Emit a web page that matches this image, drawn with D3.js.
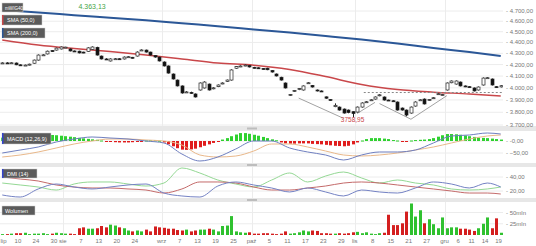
<!DOCTYPE html>
<html>
<head>
<meta charset="utf-8">
<script src="https://cdn.jsdelivr.net/npm/d3@7"></script>
<style>
body{margin:0;background:#fff;font-family:"Liberation Sans",Arial,sans-serif}
</style>
</head>
<body>
<div id="chart"></div>
<script>
// --- price data (one entry per session) ---
const opens = [
4212,4215,4213,4214,4198,4192,4196,4212,4240,4285,
4295,4325,4330,4340,4356,4340,4322,4320,4312,4318,
4335,4355,4276,4250,4232,4250,4252,4250,4267,4265,
4276,4328,4330,4312,4280,4267,4223,4188,4118,4066,
4016,3962,3962,3949,3982,3999,4032,3992,4010,4035,
4055,4066,4168,4182,4190,4192,4176,4172,4166,4168,
4148,4118,4090,4041,3936,3970,3985,3982,4040,4020,
3982,3974,3925,3903,3845,3842,3826,3818,3805,3802,
3842,3883,3897,3907,3934,3924,3899,3893,3883,3834,
3818,3794,3850,3897,3907,3897,3912,3945,3940,3982,
4043,4032,4049,4016,4010,3999,3982,4024,4083,4075,
4010,4008];
const closes = [
4215,4213,4216,4198,4192,4196,4204,4240,4285,4287,
4320,4318,4348,4358,4357,4322,4318,4304,4306,4350,
4358,4285,4250,4248,4250,4252,4248,4267,4270,4258,
4312,4331,4312,4285,4267,4232,4188,4126,4075,4016,
3957,3966,3955,3924,4041,4049,3982,4000,4024,4041,
4066,4153,4182,4188,4196,4179,4170,4166,4161,4155,
4135,4101,4066,3999,3944,3978,3994,4016,4043,4007,
3974,3970,3914,3897,3856,3818,3794,3798,3790,3842,
3875,3885,3901,3924,3942,3899,3895,3891,3818,3818,
3778,3842,3883,3901,3867,3903,3918,3951,3944,4041,
4058,4058,4016,4010,4005,3974,4007,4083,4086,4024,
4003,4018];
const highs = [
4220,4221,4220,4218,4202,4200,4208,4244,4290,4292,
4325,4328,4352,4362,4360,4345,4326,4324,4315,4355,
4363.13,4360,4280,4256,4255,4258,4256,4272,4275,4268,
4318,4336,4334,4315,4284,4270,4228,4192,4122,4070,
4020,3972,3968,3953,4045,4055,4036,4005,4028,4046,
4070,4158,4186,4193,4200,4196,4180,4176,4170,4172,
4152,4122,4094,4045,3948,3982,3998,4020,4048,4024,
3986,3978,3928,3906,3872,3846,3830,3822,3808,3846,
3880,3890,3905,3928,3947,3928,3902,3897,3887,3838,
3822,3846,3888,3905,3912,3907,3922,3955,3949,4045,
4062,4062,4053,4020,4014,4003,4011,4088,4091,4079,
4014,4022];
const lows = [
4208,4209,4209,4195,4188,4189,4193,4209,4236,4280,
4291,4314,4326,4336,4353,4318,4314,4300,4302,4315,
4331,4281,4246,4244,4228,4246,4244,4246,4263,4254,
4272,4324,4308,4281,4262,4228,4184,4122,4071,4012,
3952,3958,3950,3920,3978,3995,3978,3988,4006,4031,
4051,4062,4164,4178,4186,4175,4166,4162,4157,4151,
4131,4097,4062,3995,3932,3966,3981,3978,4036,4003,
3970,3966,3910,3893,3841,3814,3790,3792,3758.95,3798,
3838,3879,3893,3903,3930,3895,3891,3887,3814,3814,
3768,3790,3846,3893,3863,3893,3908,3941,3936,3978,
4039,4028,4012,4006,4001,3970,3978,4020,4079,4020,
3999,4004];

// volume in mln
const volumes = [
2,2,3,4,4,5,2,3,3,4,
2,3,5,4,3,3,2,15,17,14,
14,15,20,17,23,21,17,15,10,8,
10,8,12,8,19,17,16,14,14,11,
10,12,8,10,12,12,14,12,8,20,
21,42,8,6,5,6,3,3,4,4,
3,2,3,8,3,4,6,10,8,10,
9,4,4,3,3,4,3,4,6,7,
4,6,3,2,4,5,45,22,22,26,
52,70,41,55,26,35,24,15,39,15,
17,17,14,14,12,9,15,25,39,15,
37,5];

// MACD histogram, one per session
const macdHist = [
14,15,17,18,20,20,22,23,24,24,
25,25,24,22,20,18,16,13,11,9,
7,5,2,-2,-4,-5,-6,-6,-6,-5,
-4,-2,2,3,3,1,-6,-14,-22,-30,
-36,-37,-35,-32,-26,-20,-14,-8,-2,6,
12,20,27,33,33,30,26,22,17,12,
7,3,-6,-10,-11,-11,-10,-10,-10,-12,
-13,-14,-16,-18,-20,-21,-22,-20,-14,-6,
2,8,12,12,12,10,8,4,2,-1,
-2,2,4,5,6,8,12,18,24,29,
29,28,26,23,20,17,14,13,12,10,
8,6];

// sampled indicator lines (session index -> value)
const lineIdx = [0,4,8,12,16,20,24,28,32,36,40,44,48,52,56,60,64,68,72,76,80,84,88,92,96,100,104,108,111];
const macdLine = [-50,-37.5,-25,-4.2,8.3,16.7,12.5,8.3,0,-8.3,-54.2,-83.3,-66.7,-33.3,0,0,-29.2,-45.8,-58.3,-79.2,-58.3,-45.8,-45.8,-37.5,-8.3,20.8,25,33.3,29.2];
const signalLine = [-66.7,-58.3,-45.8,-29.2,-12.5,0,8.3,8.3,4.2,0,-16.7,-58.3,-66.7,-62.5,-41.7,-12.5,-12.5,-25,-41.7,-58.3,-62.5,-58.3,-50,-37.5,-25,-8.3,8.3,20.8,25];
const dmiGreen = [31.4,28.6,25.7,21.4,30,32.9,32.9,30,27.1,31.4,52.9,45.7,35.7,30,25.7,35.7,45.7,32.9,41.4,47.1,38.6,31.4,35.7,31.4,28.6,22.9,21.4,22.9,25.7];
const dmiRed = [40,37.1,34.3,28.6,25.7,24.3,24.3,22.9,21.4,17.1,22.9,32.9,32.9,31.4,25.7,21.4,21.4,24.3,27.1,31.4,32.9,31.4,28.6,25.7,22.9,20,17.1,17.1,15.7];
const dmiBlue = [14.3,11.4,22.9,30,25.7,22.9,25.7,28.6,30,17.1,12.9,11.4,27.1,32.9,28.6,24.3,18.6,24.3,18.6,12.9,21.4,18.6,17.1,24.3,32.9,30,24.3,31.4,25.7];

const smaIdx = [0,8,16,24,32,40,48,56,64,72,80,88,96,104,111];
const sma50 = [4422,4376,4344,4317,4285,4250,4214,4195,4157,4096,4028,3986,3964,3949,3932];
const sma200 = [4710,4685,4659,4634,4609,4580,4553,4522,4492,4460,4427,4390,4349,4312,4276];

// pattern lines drawn on the price panel
const patternLines = [
  [[66,3915],[76,3752]],
  [[79,3790],[83,3880]],
  [[84,3870],[91,3745]],
  [[91,3745],[99,3935]]
];
const neckIdx = [81,112];
const neckValue = 3961;

// axis labels
const tickIdx = [0,4,8,12,14,18,22,26,30,36,40,44,48,52,56,60,64,68,72,76,79,83,87,91,95,99,102,105,108,111];
const tickLabels = ['lip','10','24','30','sie','7','13','20','24','wrz','7','13','19','25','paź','5','11','17','23','29','lis','8','15','21','27','gru','6','11','14','19'];
const monthIdx = [14,36,56,79,99];
const priceTicks = [3700,3800,3900,4000,4100,4200,4300,4400,4500,4600,4700];
const macdTicks = [0,-50];
const dmiTicks = [20,40];
const volTicks = [25,50];

const W = 536, H = 246, plotW = 503;
const N = opens.length;
const fmt = d3.formatLocale({decimal:',',thousands:'.',grouping:[3],currency:['','']}).format(',.2f');

const svg = d3.select('#chart').append('svg')
  .attr('width',W).attr('height',H)
  .style('display','block');

const x = d3.scaleLinear().domain([0,N]).range([0,plotW]);
const cx = i => x(i+0.5);

const panels = {
  main:{top:0,bottom:126},
  macd:{top:131,bottom:163},
  dmi:{top:167,bottom:198},
  vol:{top:202,bottom:236}
};

const y = d3.scaleLog().domain([3700,4700]).range([125,11]);
const yM = d3.scaleLinear().domain([-50,0]).range([153,141]);
const yD = d3.scaleLinear().domain([20,40]).range([191,177]);
const yV = d3.scaleLinear().domain([0,50]).range([235,212.5]);

// separators between panes
[[126,131],[163,167],[198,202]].forEach(([a,b])=>{
  svg.append('rect').attr('x',0).attr('y',a).attr('width',W).attr('height',b-a).attr('fill','#e7e7e7');
  svg.append('rect').attr('x',247).attr('y',(a+b)/2-1).attr('width',10).attr('height',2).attr('fill','#bdbdbd');
});

const defs = svg.append('defs');
Object.entries(panels).forEach(([k,p])=>{
  defs.append('clipPath').attr('id','clip-'+k)
    .append('rect').attr('x',0).attr('y',p.top).attr('width',plotW).attr('height',p.bottom-p.top);
});

function hGrid(scale,ticks,label){
  const g = svg.append('g');
  ticks.forEach(t=>{
    g.append('line').attr('x1',0).attr('x2',plotW)
      .attr('y1',scale(t)).attr('y2',scale(t))
      .attr('stroke','#ececec').attr('stroke-width',1);
    g.append('text').attr('x',506).attr('y',scale(t)+2)
      .attr('font-size',6).attr('fill','#777')
      .text('- '+label(t));
  });
}
function vGrid(p){
  monthIdx.forEach(m=>{
    svg.append('line').attr('x1',Math.round(x(m))+0.5).attr('x2',Math.round(x(m))+0.5)
      .attr('y1',p.top).attr('y2',p.bottom)
      .attr('stroke','#ececec');
  });
}
Object.values(panels).forEach(vGrid);

hGrid(y,priceTicks,fmt);
hGrid(yM,macdTicks,t=>t===0?'-0,00':fmt(t));
hGrid(yD,dmiTicks,fmt);
hGrid(yV,volTicks,t=>t+'mln');

// ---- main price pane ----
const gMain = svg.append('g').attr('clip-path','url(#clip-main)');

const line = (xs,ys,sc)=>d3.line().x((d,i)=>cx(xs[i])).y(d=>sc(d)).curve(d3.curveMonotoneX)(ys);

gMain.append('path').attr('d',line(smaIdx,sma200,y))
  .attr('fill','none').attr('stroke','#2b5797').attr('stroke-width',2);
gMain.append('path').attr('d',line(smaIdx,sma50,y))
  .attr('fill','none').attr('stroke','#c9474a').attr('stroke-width',1.5);

patternLines.forEach(seg=>{
  gMain.append('line')
    .attr('x1',cx(seg[0][0])).attr('y1',y(seg[0][1]))
    .attr('x2',cx(seg[1][0])).attr('y2',y(seg[1][1]))
    .attr('stroke','#8a8a8a').attr('stroke-width',0.8);
});
gMain.append('line')
  .attr('x1',x(neckIdx[0])).attr('x2',x(neckIdx[1]))
  .attr('y1',y(neckValue)).attr('y2',y(neckValue))
  .attr('stroke','#888').attr('stroke-dasharray','2,2').attr('stroke-width',1);

const candles = gMain.selectAll('g.c').data(d3.range(N)).join('g').attr('class','c');
candles.append('line')
  .attr('x1',i=>Math.round(cx(i))+0.5).attr('x2',i=>Math.round(cx(i))+0.5)
  .attr('y1',i=>y(highs[i])).attr('y2',i=>y(lows[i]))
  .attr('stroke','#222').attr('stroke-width',1);
candles.append('rect')
  .attr('x',i=>Math.round(cx(i))-1)
  .attr('y',i=>y(Math.max(opens[i],closes[i])))
  .attr('width',3)
  .attr('height',i=>Math.max(1,y(Math.min(opens[i],closes[i]))-y(Math.max(opens[i],closes[i]))))
  .attr('fill',i=>closes[i]>=opens[i]?'#fff':'#111')
  .attr('stroke','#222').attr('stroke-width',0.7);

// high / low markers
const iHigh = d3.maxIndex(highs), iLow = d3.minIndex(lows);
svg.append('text').attr('x',cx(iHigh)).attr('y',9).attr('text-anchor','middle')
  .attr('font-size',7).attr('fill','#47a447').text(fmt(highs[iHigh]));
svg.append('text').attr('x',cx(iLow)).attr('y',y(lows[iLow])+5).attr('text-anchor','middle')
  .attr('font-size',6.5).attr('fill','#c9474a').text(fmt(lows[iLow]).replace('.',''));

// ---- MACD pane ----
const gMacd = svg.append('g').attr('clip-path','url(#clip-macd)');
gMacd.selectAll('rect').data(macdHist).join('rect')
  .attr('x',(d,i)=>Math.round(cx(i))-1)
  .attr('width',3)
  .attr('y',d=>Math.min(yM(0),yM(d)))
  .attr('height',d=>Math.max(1,Math.abs(yM(d)-yM(0))))
  .attr('fill',d=>d>=0?'#2fd12f':'#e01c1c');
gMacd.append('path').attr('d',line(lineIdx,signalLine,yM))
  .attr('fill','none').attr('stroke','#e9b88a').attr('stroke-width',1);
gMacd.append('path').attr('d',line(lineIdx,macdLine,yM))
  .attr('fill','none').attr('stroke','#6f7fc0').attr('stroke-width',1);

// ---- DMI pane ----
const gDmi = svg.append('g').attr('clip-path','url(#clip-dmi)');
[[dmiGreen,'#94d894'],[dmiRed,'#c46a6a'],[dmiBlue,'#7482c4']].forEach(([vals,col])=>{
  gDmi.append('path').attr('d',line(lineIdx,vals,yD))
    .attr('fill','none').attr('stroke',col).attr('stroke-width',1);
});

// ---- volume pane ----
const gVol = svg.append('g').attr('clip-path','url(#clip-vol)');
gVol.selectAll('rect').data(volumes).join('rect')
  .attr('x',(d,i)=>Math.round(cx(i))-1)
  .attr('width',3)
  .attr('y',d=>yV(d))
  .attr('height',d=>yV(0)-yV(d))
  .attr('fill',(d,i)=>closes[i]>=opens[i]?'#2fc12f':'#d41f1f');

// ---- x axis ----
const gx = svg.append('g');
tickIdx.forEach((t,k)=>{
  gx.append('text').attr('x',t===0?0.5:x(t)).attr('y',243)
    .attr('text-anchor',t===0?'start':'middle').attr('font-size',6).attr('fill','#777')
    .text(tickLabels[k]);
});

// ---- legend boxes ----
function badge(px,py,w,h,txt,edge,fs){
  const g = svg.append('g');
  g.append('rect').attr('x',px).attr('y',py).attr('width',w).attr('height',h)
    .attr('fill','#5b5b5b').attr('stroke','#d0d0d0').attr('stroke-width',0.5);
  if(edge) g.append('rect').attr('x',px).attr('y',py).attr('width',1.5).attr('height',h).attr('fill',edge);
  g.append('text').attr('x',px+(edge?5:3)).attr('y',py+h/2+2).attr('font-size',fs||5.5).attr('fill','#fff').text(txt);
}
badge(2,3,21,9,'mWIG40',null,4.6);
badge(2,15,40,10,'SMA (50,0)','#c9474a');
badge(2,28,43,10,'SMA (200,0)','#2b5797');
badge(2,133,49,11,'MACD (12,26,9)','#3344cc');
badge(2,169,35,9,'DMI (14)','#3344cc');
badge(2,206,33,9,'Wolumen',null);
</script>
</body>
</html>
